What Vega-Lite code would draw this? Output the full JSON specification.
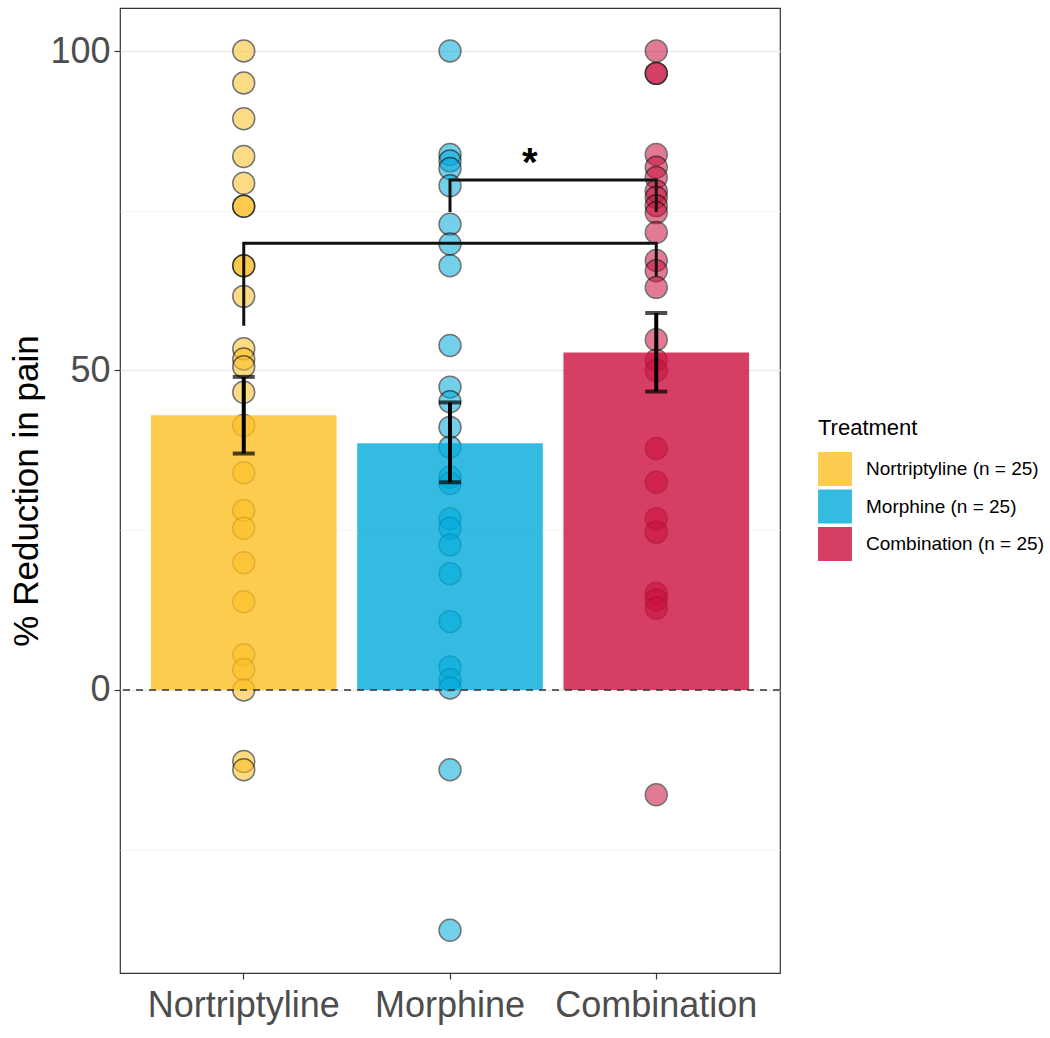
{
  "$schema": "https://vega.github.io/schema/vega-lite/v6.json",
  "autosize": {"type": "none"},
  "padding": {"left": 120, "top": 8, "right": 270, "bottom": 65},
  "width": 660,
  "height": 965,
  "config": {
    "font": "Liberation Sans",
    "view": {"stroke": "#333333", "strokeWidth": 1.2},
    "axis": {"domain": false, "labelColor": "#4D4D4D", "labelFontSize": 36, "titleFontSize": 35, "titleFontWeight": "normal", "titleColor": "#000000", "tickColor": "#333333", "tickSize": 6, "tickWidth": 1.2, "labelPadding": 4, "labelLimit": 0, "gridColor": "#EBEBEB", "gridWidth": 1.3}
  },
  "datasets": {
    "points": [
      {"treatment": "Nortriptyline", "reduction": 100},
      {"treatment": "Nortriptyline", "reduction": 95},
      {"treatment": "Nortriptyline", "reduction": 89.4},
      {"treatment": "Nortriptyline", "reduction": 83.5},
      {"treatment": "Nortriptyline", "reduction": 79.3},
      {"treatment": "Nortriptyline", "reduction": 75.7},
      {"treatment": "Nortriptyline", "reduction": 75.7},
      {"treatment": "Nortriptyline", "reduction": 66.4},
      {"treatment": "Nortriptyline", "reduction": 66.4},
      {"treatment": "Nortriptyline", "reduction": 61.6},
      {"treatment": "Nortriptyline", "reduction": 53.4},
      {"treatment": "Nortriptyline", "reduction": 51.8},
      {"treatment": "Nortriptyline", "reduction": 50.6},
      {"treatment": "Nortriptyline", "reduction": 46.6},
      {"treatment": "Nortriptyline", "reduction": 41.4},
      {"treatment": "Nortriptyline", "reduction": 34.0},
      {"treatment": "Nortriptyline", "reduction": 28.1},
      {"treatment": "Nortriptyline", "reduction": 25.3},
      {"treatment": "Nortriptyline", "reduction": 19.9},
      {"treatment": "Nortriptyline", "reduction": 13.8},
      {"treatment": "Nortriptyline", "reduction": 5.5},
      {"treatment": "Nortriptyline", "reduction": 3.2},
      {"treatment": "Nortriptyline", "reduction": 0},
      {"treatment": "Nortriptyline", "reduction": -11.2},
      {"treatment": "Nortriptyline", "reduction": -12.5},
      {"treatment": "Morphine", "reduction": 100},
      {"treatment": "Morphine", "reduction": 83.8},
      {"treatment": "Morphine", "reduction": 82.8},
      {"treatment": "Morphine", "reduction": 81.6},
      {"treatment": "Morphine", "reduction": 78.9},
      {"treatment": "Morphine", "reduction": 72.9},
      {"treatment": "Morphine", "reduction": 69.8},
      {"treatment": "Morphine", "reduction": 66.4},
      {"treatment": "Morphine", "reduction": 53.9},
      {"treatment": "Morphine", "reduction": 47.4},
      {"treatment": "Morphine", "reduction": 45.1},
      {"treatment": "Morphine", "reduction": 41.1},
      {"treatment": "Morphine", "reduction": 38.0},
      {"treatment": "Morphine", "reduction": 33.3},
      {"treatment": "Morphine", "reduction": 32.3},
      {"treatment": "Morphine", "reduction": 26.8},
      {"treatment": "Morphine", "reduction": 25.3},
      {"treatment": "Morphine", "reduction": 22.7},
      {"treatment": "Morphine", "reduction": 18.2},
      {"treatment": "Morphine", "reduction": 10.7},
      {"treatment": "Morphine", "reduction": 3.6},
      {"treatment": "Morphine", "reduction": 1.6},
      {"treatment": "Morphine", "reduction": 0.3},
      {"treatment": "Morphine", "reduction": -12.5},
      {"treatment": "Morphine", "reduction": -37.6},
      {"treatment": "Combination", "reduction": 100},
      {"treatment": "Combination", "reduction": 96.5},
      {"treatment": "Combination", "reduction": 96.5},
      {"treatment": "Combination", "reduction": 83.8},
      {"treatment": "Combination", "reduction": 81.8},
      {"treatment": "Combination", "reduction": 80.2},
      {"treatment": "Combination", "reduction": 78.1},
      {"treatment": "Combination", "reduction": 77.1},
      {"treatment": "Combination", "reduction": 75.8},
      {"treatment": "Combination", "reduction": 74.7},
      {"treatment": "Combination", "reduction": 71.6},
      {"treatment": "Combination", "reduction": 67.2},
      {"treatment": "Combination", "reduction": 65.6},
      {"treatment": "Combination", "reduction": 63.0},
      {"treatment": "Combination", "reduction": 54.8},
      {"treatment": "Combination", "reduction": 51.6},
      {"treatment": "Combination", "reduction": 50.0},
      {"treatment": "Combination", "reduction": 37.8},
      {"treatment": "Combination", "reduction": 32.5},
      {"treatment": "Combination", "reduction": 26.8},
      {"treatment": "Combination", "reduction": 24.7},
      {"treatment": "Combination", "reduction": 15.1},
      {"treatment": "Combination", "reduction": 14.1},
      {"treatment": "Combination", "reduction": 12.8},
      {"treatment": "Combination", "reduction": -16.4}
    ],
    "summary": [
      {"treatment": "Nortriptyline", "mean": 43.0, "lower": 37.0, "upper": 49.0},
      {"treatment": "Morphine", "mean": 38.6, "lower": 32.5, "upper": 45.0},
      {"treatment": "Combination", "mean": 52.8, "lower": 46.7, "upper": 59.0}
    ],
    "brackets": [
      {"bracket": 1, "step": 1, "treatment": "Nortriptyline", "y": 57.0},
      {"bracket": 1, "step": 2, "treatment": "Nortriptyline", "y": 69.9},
      {"bracket": 1, "step": 3, "treatment": "Combination", "y": 69.9},
      {"bracket": 1, "step": 4, "treatment": "Combination", "y": 64.7},
      {"bracket": 2, "step": 1, "treatment": "Morphine", "y": 74.8},
      {"bracket": 2, "step": 2, "treatment": "Morphine", "y": 79.8},
      {"bracket": 2, "step": 3, "treatment": "Combination", "y": 79.8},
      {"bracket": 2, "step": 4, "treatment": "Combination", "y": 74.8}
    ],
    "stars": [
      {"treatment": "Morphine", "y": 80.4, "label": "*"}
    ]
  },
  "encoding": {
    "x": {
      "field": "treatment", "type": "nominal",
      "sort": ["Nortriptyline", "Morphine", "Combination"],
      "scale": {"domain": ["Nortriptyline", "Morphine", "Combination"], "paddingInner": 0.1, "paddingOuter": 0.15},
      "axis": {"title": null, "labelAngle": 0, "labelPadding": 9}
    }
  },
  "layer": [
    {
      "data": {"name": "points"},
      "mark": {"type": "point", "filled": true, "shape": "circle", "size": 480, "opacity": 0.55, "stroke": "#000000", "strokeWidth": 1.5},
      "encoding": {
        "y": {
          "field": "reduction", "type": "quantitative",
          "scale": {"domain": [-44.3, 106.73], "nice": false, "zero": false},
          "axis": {
            "title": "% Reduction in pain",
            "titlePadding": 5,
            "values": [-25, 0, 25, 50, 75, 100],
            "labelExpr": "datum.value % 50 === 0 ? datum.label : ''",
            "tickOpacity": {"condition": {"test": "datum.value % 50 === 0", "value": 1}, "value": 0},
            "gridColor": {"condition": {"test": "datum.value % 50 === 0", "value": "#EBEBEB"}, "value": "#F4F4F4"},
            "gridWidth": {"condition": {"test": "datum.value % 50 === 0", "value": 1.3}, "value": 0.8}
          }
        },
        "fill": {"field": "treatment", "type": "nominal", "scale": {"domain": ["Nortriptyline", "Morphine", "Combination"], "range": ["#FCBE22", "#00AADB", "#CC0F3C"]}}
      }
    },
    {
      "data": {"name": "summary"},
      "mark": {"type": "bar", "opacity": 0.8},
      "encoding": {
        "y": {"field": "mean", "type": "quantitative"},
        "y2": {"datum": 0},
        "fill": {
          "field": "treatment", "type": "nominal",
          "legend": {
            "title": "Treatment",
            "orient": "none",
            "legendX": 698,
            "legendY": 410,
            "titleFontSize": 22,
            "titleFontWeight": "normal",
            "titleColor": "#000000",
            "titlePadding": 12,
            "labelFontSize": 19,
            "labelColor": "#000000",
            "labelOffset": 14,
            "labelLimit": 0,
            "symbolType": "square",
            "symbolSize": 1150,
            "symbolStrokeWidth": 0,
            "symbolOpacity": 1,
            "rowPadding": 3.5,
            "labelExpr": "datum.label + ' (n = 25)'",
            "encode": {"symbols": {"update": {"opacity": {"value": 1}, "fillOpacity": {"value": 0.8}, "strokeWidth": {"value": 0}}}}
          }
        }
      }
    },
    {
      "data": {"name": "summary"},
      "mark": {"type": "rule", "color": "#000000", "strokeWidth": 4},
      "encoding": {
        "y": {"field": "lower", "type": "quantitative"},
        "y2": {"field": "upper"}
      }
    },
    {
      "data": {"name": "summary"},
      "mark": {"type": "tick", "color": "#000000", "thickness": 4, "orient": "horizontal"},
      "encoding": {
        "y": {"field": "lower", "type": "quantitative"},
        "size": {"value": 22}
      }
    },
    {
      "data": {"name": "summary"},
      "mark": {"type": "tick", "color": "#000000", "thickness": 4, "orient": "horizontal"},
      "encoding": {
        "y": {"field": "upper", "type": "quantitative"},
        "size": {"value": 22}
      }
    },
    {
      "data": {"values": [{"zero": 0}]},
      "mark": {"type": "rule", "color": "#333333", "strokeWidth": 1.5, "strokeDash": [7, 6]},
      "encoding": {
        "x": null,
        "y": {"field": "zero", "type": "quantitative"}
      }
    },
    {
      "data": {"name": "brackets"},
      "mark": {"type": "line", "color": "#111111", "strokeWidth": 3, "strokeJoin": "miter", "strokeCap": "butt"},
      "encoding": {
        "y": {"field": "y", "type": "quantitative"},
        "detail": {"field": "bracket", "type": "nominal"},
        "order": {"field": "step", "type": "quantitative"}
      }
    },
    {
      "data": {"name": "stars"},
      "mark": {"type": "text", "fontSize": 40, "fontWeight": "bold", "color": "#000000", "baseline": "alphabetic", "align": "center"},
      "encoding": {
        "x": {"field": "treatment", "type": "nominal", "bandPosition": 0.93},
        "y": {"field": "y", "type": "quantitative"},
        "text": {"field": "label"}
      }
    }
  ]
}
